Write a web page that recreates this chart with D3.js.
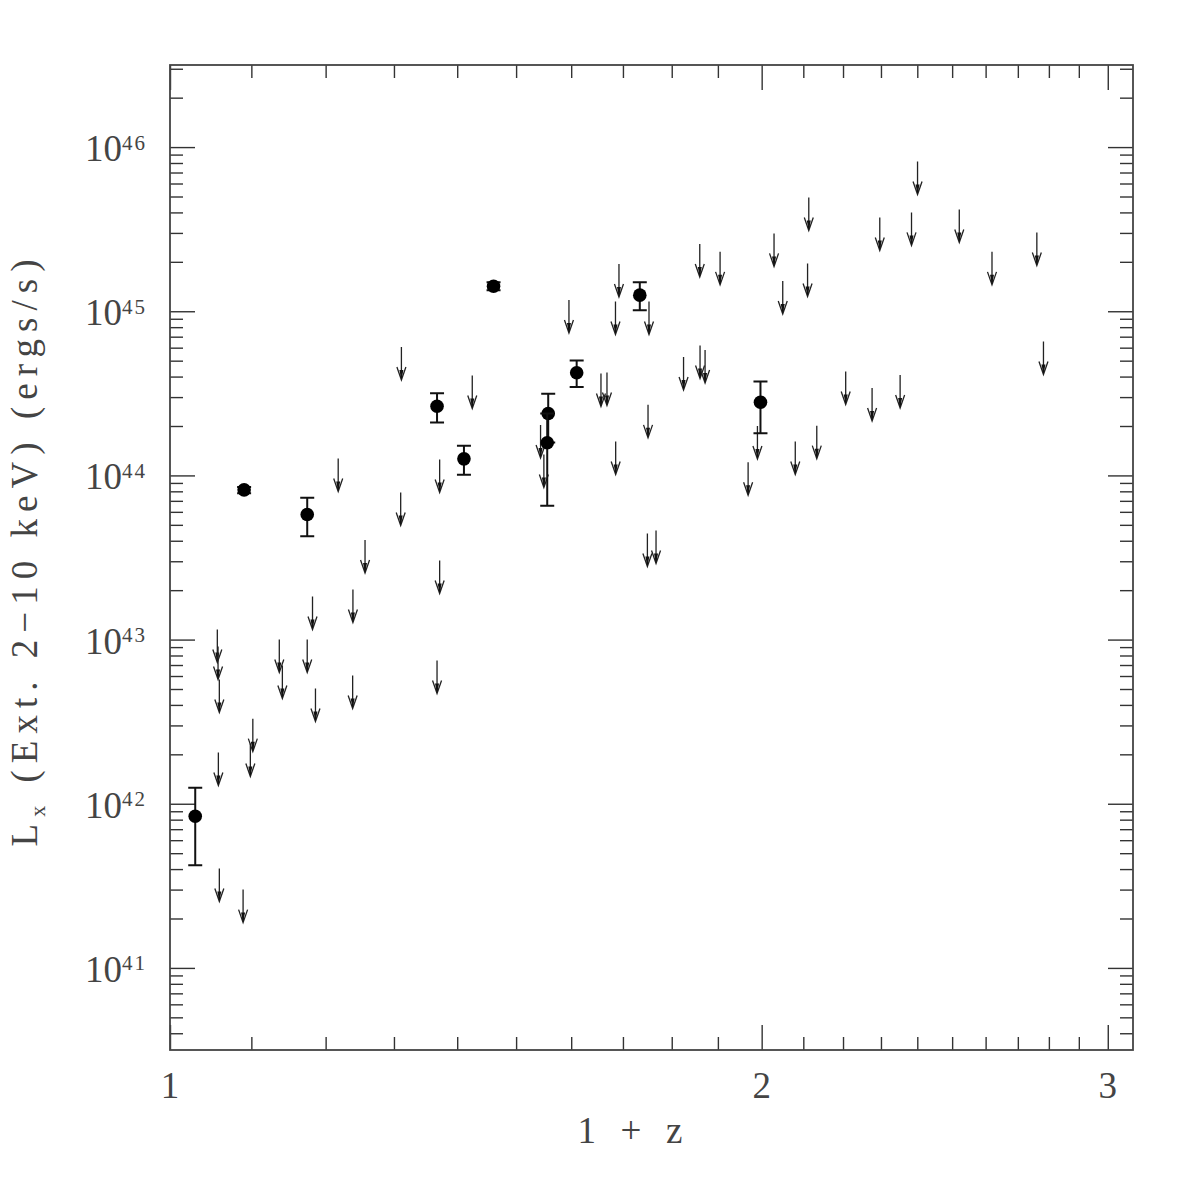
<!DOCTYPE html>
<meta charset="utf-8">
<style>
body { margin: 0; background: #fff; }
text { font-family: "Liberation Serif", "DejaVu Serif", serif; fill: #444; }
.tick line { stroke: #333; stroke-width: 1.4px; }
.domain { display: none; }
.frame { fill: none; stroke: #444; stroke-width: 1.8px; }
.err { stroke: #111; stroke-width: 2px; }
.lim { stroke: #222; stroke-width: 1.3px; fill: none; }
</style>
<body>
<script src="https://d3js.org/d3.v7.min.js"></script>
<script>

// detections (1+z, Lx) with error bar ends
var detZ  = [1.030, 1.0907, 1.1744, 1.3673, 1.4111, 1.4609, 1.5575, 1.5557, 1.6103, 1.7339, 1.9972];
var detL  = [8.39e41, 8.17e43, 5.78e43, 2.64e44, 1.262e44, 1.421e45, 2.384e44, 1.580e44, 4.22e44, 1.253e45, 2.792e44];
var detLo = [4.22e41, 7.8e43, 4.26e43, 2.10e44, 1.009e44, 1.343e45, 1.586e44, 6.53e43, 3.45e44, 1.015e45, 1.808e44];
var detHi = [1.25e42, 8.5e43, 7.31e43, 3.17e44, 1.515e44, 1.503e45, 3.14e44, 2.384e44, 5.01e44, 1.503e45, 3.73e44];

// upper limits (1+z, Lx)
var limZ = [1.0570, 1.0579, 1.0595, 1.0583, 1.0595, 1.0894, 1.1019, 1.0987, 1.1366, 1.1407,
            1.1744, 1.1858, 1.1817, 1.2178, 1.2390, 1.2386, 1.2567, 1.3114, 1.3103, 1.3673,
            1.3715, 1.3715, 1.4249, 1.5436, 1.5496, 1.5958, 1.6568, 1.6685, 1.6856, 1.6852,
            1.6921, 1.7527, 1.7507, 1.7494, 1.7672, 1.8251, 1.8601, 1.8607, 1.8717, 1.9049,
            1.9685, 1.9901, 2.0292, 2.0500, 2.0803, 2.1105, 2.1135, 2.1334, 2.2069, 2.2762,
            2.2968, 2.3522, 2.3838, 2.4007, 2.5210, 2.6195, 2.7608, 2.7823];
var limL = [1.151e43, 9.07e42, 5.71e42, 2.05e42, 4.03e41, 3.00e41, 3.30e42, 2.33e42, 1.001e43, 6.95e42,
            1.001e43, 5.03e42, 1.83e43, 1.267e44, 2.02e43, 6.04e42, 4.04e43, 6.06e44, 7.87e43, 7.45e42,
            3.03e43, 1.250e44, 4.06e44, 2.03e44, 1.341e44, 1.171e45, 4.18e44, 4.24e44, 1.609e44, 1.147e45,
            1.940e45, 1.147e45, 2.69e44, 4.43e43, 4.62e43, 5.26e44, 2.57e45, 6.18e44, 5.80e44, 2.30e45,
            1.204e44, 2.00e44, 2.98e45, 1.529e45, 1.609e44, 1.954e45, 4.93e45, 2.01e44, 4.30e44, 3.41e44,
            3.72e45, 4.09e44, 4.00e45, 8.17e45, 4.17e45, 2.30e45, 3.02e45, 6.54e44];

// ticks
var xMajor = [1, 2, 3];
var xMinor = [1.1, 1.2, 1.3, 1.4, 1.5, 1.6, 1.7, 1.8, 1.9, 2.1, 2.2, 2.3, 2.4, 2.5, 2.6, 2.7, 2.8, 2.9];
var yExp = [41, 42, 43, 44, 45, 46];

var margin = {top: 65, right: 63, bottom: 146, left: 170},
    width = 1196 - margin.left - margin.right,
    height = 1196 - margin.top - margin.bottom;

var svg = d3.select("body").append("svg")
    .attr("width", 1196)
    .attr("height", 1196)
  .append("g")
    .attr("transform", "translate(" + margin.left + "," + margin.top + ")");

var x = d3.scaleLog().domain([1, 3.09]).range([0, width]);
var y = d3.scaleLog().domain([Math.pow(10, 40.5), Math.pow(10, 46.5)]).range([height, 0]);

var yMajor = yExp.map(function(e) { return Math.pow(10, e); });
var yMinor = [];
for (var e = 40; e <= 46; e++) {
  for (var m = 2; m <= 9; m++) {
    var v = m * Math.pow(10, e);
    if (v > y.domain()[0] && v < y.domain()[1]) yMinor.push(v);
  }
}

var MAJ = 25, MIN = 13;

// inward ticks on all four sides
function addAxis(axis, vals, size, tr) {
  svg.append("g")
      .attr("transform", tr)
      .call(axis.tickValues(vals).tickSize(size).tickFormat(""));
}
addAxis(d3.axisBottom(x), xMinor, -MIN, "translate(0," + height + ")");
addAxis(d3.axisBottom(x), xMajor, -MAJ, "translate(0," + height + ")");
addAxis(d3.axisTop(x), xMinor, -MIN, "translate(0,0)");
addAxis(d3.axisTop(x), xMajor, -MAJ, "translate(0,0)");
addAxis(d3.axisLeft(y), yMinor, -MIN, "translate(0,0)");
addAxis(d3.axisLeft(y), yMajor, -MAJ, "translate(0,0)");
addAxis(d3.axisRight(y), yMinor, -MIN, "translate(" + width + ",0)");
addAxis(d3.axisRight(y), yMajor, -MAJ, "translate(" + width + ",0)");

svg.append("rect")
    .attr("class", "frame")
    .attr("width", width)
    .attr("height", height);

// x tick labels
svg.selectAll(".xlab")
    .data(xMajor)
  .enter().append("text")
    .attr("x", function(d) { return x(d); })
    .attr("y", height + 48)
    .attr("text-anchor", "middle")
    .style("font-size", "37px")
    .text(function(d) { return d; });

// y tick labels 10^n
var yl = svg.selectAll(".ylab")
    .data(yExp)
  .enter().append("text")
    .attr("x", -23)
    .attr("y", function(d) { return y(Math.pow(10, d)) + 14; })
    .attr("text-anchor", "end")
    .style("font-size", "37px");
yl.append("tspan").text("10");
yl.append("tspan")
    .attr("dy", -11.5)
    .style("font-size", "21px")
    .style("letter-spacing", "2px")
    .text(function(d) { return d; });

// axis titles
svg.append("text")
    .attr("x", 630 - margin.left)
    .attr("y", height + 93)
    .attr("text-anchor", "middle")
    .attr("textLength", 105)
    .style("font-size", "37px")
    .text("1 + z");

var yt = svg.append("text")
    .attr("transform", "translate(" + (37 - margin.left) + "," + (553 - margin.top) + ") rotate(-90)")
    .attr("text-anchor", "middle")
    .attr("textLength", 587)
    .attr("lengthAdjust", "spacing")
    .style("font-size", "37px");
yt.append("tspan").text("L");
yt.append("tspan").attr("dy", 8).style("font-size", "22px").text("x");
yt.append("tspan").attr("dy", -8).text(" (Ext. 2\u221210 keV)  (ergs/s)");

// upper limit arrows
var ARROW = 33;
var lims = limZ.map(function(d, i) { return {z: d, L: limL[i]}; });
var lg = svg.selectAll(".limit")
    .data(lims)
  .enter().append("g");
lg.append("path")
    .attr("class", "lim")
    .attr("d", function(d) {
      var px = x(d.z), top = y(d.L), tip = top + ARROW;
      return "M" + px + "," + top + "V" + tip +
             "M" + (px - 4.5) + "," + (tip - 13) + "L" + px + "," + tip + "L" + (px + 4.5) + "," + (tip - 13);
    });
lg.append("path")
    .attr("fill", "#111")
    .attr("d", function(d) {
      var px = x(d.z), tip = y(d.L) + ARROW;
      return "M" + (px - 2) + "," + (tip - 10) + "L" + px + "," + tip + "L" + (px + 2) + "," + (tip - 10) + "Z";
    });

// detections with error bars
var dets = detZ.map(function(d, i) { return {z: d, L: detL[i], lo: detLo[i], hi: detHi[i]}; });
var dg = svg.selectAll(".det")
    .data(dets)
  .enter().append("g");
dg.append("path")
    .attr("class", "err")
    .attr("d", function(d) {
      var px = x(d.z), a = y(d.hi), b = y(d.lo);
      return "M" + px + "," + a + "V" + b +
             "M" + (px - 7) + "," + a + "H" + (px + 7) +
             "M" + (px - 7) + "," + b + "H" + (px + 7);
    });
dg.append("circle")
    .attr("cx", function(d) { return x(d.z); })
    .attr("cy", function(d) { return y(d.L); })
    .attr("r", 6.8)
    .attr("fill", "#000");

</script>
</body>
